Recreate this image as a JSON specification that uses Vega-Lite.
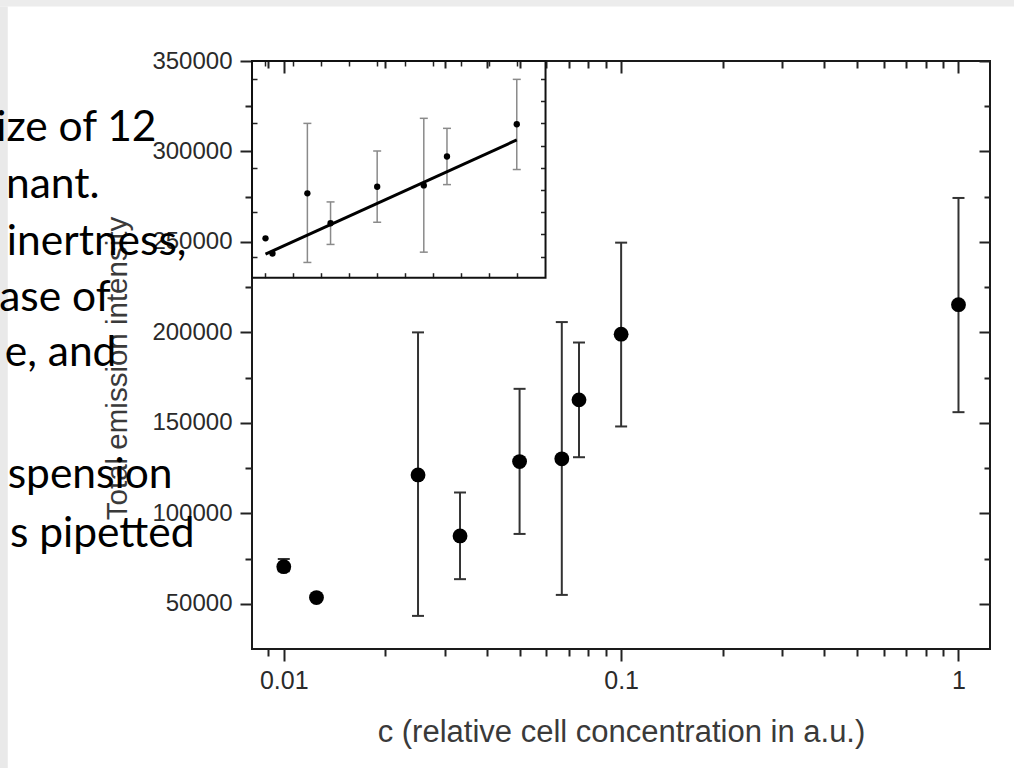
{
  "$schema": "https://vega.github.io/schema/vega-lite/v6.json",
  "width": 738,
  "height": 588,
  "autosize": {"type": "none"},
  "padding": {"left": 252, "top": 61, "right": 24, "bottom": 119},
  "background": "white",
  "config": {
    "view": {"stroke": "#1a1a1a", "strokeWidth": 2},
    "axis": {
      "labelFont": "Liberation Sans",
      "titleFont": "Liberation Sans",
      "grid": false,
      "domain": false,
      "tickColor": "#222",
      "tickWidth": 2,
      "labelColor": "#2a2a2a",
      "titleColor": "#3a3a3a",
      "titleFontWeight": "normal",
      "labelFlush": false,
      "labelOverlap": false
    }
  },
  "datasets": {
    "main": [
      {"c": 0.01, "v": 70500, "lo": 68000, "hi": 74800},
      {"c": 0.0125, "v": 53400, "lo": null, "hi": null},
      {"c": 0.025, "v": 121200, "lo": 43300, "hi": 200000},
      {"c": 0.0333, "v": 87500, "lo": 63600, "hi": 111500},
      {"c": 0.05, "v": 128600, "lo": 88600, "hi": 168800},
      {"c": 0.0667, "v": 130100, "lo": 54900, "hi": 205700},
      {"c": 0.075, "v": 162700, "lo": 131000, "hi": 194400},
      {"c": 0.1, "v": 199000, "lo": 148000, "hi": 249600},
      {"c": 1, "v": 215300, "lo": 155900, "hi": 274300}
    ],
    "fit": [
      {"c": 0.01, "v": 52800},
      {"c": 0.1, "v": 181300}
    ],
    "slide": [
      {"t": "ize of 12", "tc": 0.004195, "tv": 305975},
      {"t": "nant.", "tc": 0.002843, "tv": 274450},
      {"t": "inertness,", "tc": 0.005148, "tv": 242920},
      {"t": "ase of", "tc": 0.003066, "tv": 211950},
      {"t": "e, and", "tc": 0.003191, "tv": 181530},
      {"t": "spension", "tc": 0.004679, "tv": 114050},
      {"t": "s pipetted", "tc": 0.005436, "tv": 81420}
    ]
  },
  "layer": [
    {
      "layer": [
        {
          "data": {"values": [{}]},
          "mark": {"type": "rect", "color": "#ececec"},
          "encoding": {
            "x": {"datum": 0.001, "type": "quantitative", "scale": {"type": "log", "domain": [0.00805, 1.24], "nice": false, "zero": false}},
            "x2": {"datum": 2},
            "y": {"datum": 380100, "type": "quantitative", "scale": {"type": "linear", "domain": [25000, 350000], "nice": false, "zero": false}},
            "y2": {"datum": 400000}
          }
        },
        {
          "data": {"values": [{}]},
          "mark": {"type": "rect", "color": "#e9e9e9"},
          "encoding": {
            "x": {"datum": 0.001, "type": "quantitative", "scale": {"type": "log", "domain": [0.00805, 1.24], "nice": false, "zero": false}},
            "x2": {"datum": 0.00152},
            "y": {"datum": -60000, "type": "quantitative", "scale": {"type": "linear", "domain": [25000, 350000], "nice": false, "zero": false}},
            "y2": {"datum": 380100}
          }
        },
        {
          "data": {"name": "slide"},
          "mark": {"type": "text", "align": "right", "baseline": "alphabetic", "font": "Lato", "fontSize": 42.5, "color": "#000"},
          "encoding": {
            "x": {"field": "tc", "type": "quantitative", "scale": {"type": "log", "domain": [0.00805, 1.24], "nice": false, "zero": false}},
            "y": {"field": "tv", "type": "quantitative", "scale": {"type": "linear", "domain": [25000, 350000], "nice": false, "zero": false}},
            "text": {"field": "t"}
          }
        },
        {
          "data": {"name": "main"},
          "mark": {"type": "rule", "color": "#333", "strokeWidth": 2},
          "encoding": {
            "x": {"field": "c", "type": "quantitative", "scale": {"type": "log", "domain": [0.00805, 1.24], "nice": false, "zero": false}},
            "y": {"field": "lo", "type": "quantitative", "scale": {"type": "linear", "domain": [25000, 350000], "nice": false, "zero": false}},
            "y2": {"field": "hi"}
          }
        },
        {
          "data": {"name": "main"},
          "mark": {"type": "tick", "orient": "horizontal", "size": 12, "thickness": 2, "color": "#333", "opacity": 1},
          "encoding": {
            "x": {"field": "c", "type": "quantitative", "scale": {"type": "log", "domain": [0.00805, 1.24], "nice": false, "zero": false}},
            "y": {"field": "hi", "type": "quantitative", "scale": {"type": "linear", "domain": [25000, 350000], "nice": false, "zero": false}}
          }
        },
        {
          "data": {"name": "main"},
          "mark": {"type": "tick", "orient": "horizontal", "size": 12, "thickness": 2, "color": "#333", "opacity": 1},
          "encoding": {
            "x": {"field": "c", "type": "quantitative", "scale": {"type": "log", "domain": [0.00805, 1.24], "nice": false, "zero": false}},
            "y": {"field": "lo", "type": "quantitative", "scale": {"type": "linear", "domain": [25000, 350000], "nice": false, "zero": false}}
          }
        },
        {
          "data": {"name": "main"},
          "mark": {"type": "circle", "size": 220, "color": "#000", "opacity": 1},
          "encoding": {
            "x": {
              "field": "c", "type": "quantitative",
              "scale": {"type": "log", "domain": [0.00805, 1.24], "nice": false, "zero": false},
              "axis": {
                "orient": "bottom",
                "values": [0.009, 0.01, 0.02, 0.03, 0.04, 0.05, 0.06, 0.07, 0.08, 0.09, 0.1, 0.2, 0.3, 0.4, 0.5, 0.6, 0.7, 0.8, 0.9, 1],
                "labelExpr": "(datum.value == 0.01 || datum.value == 0.1 || datum.value == 1) ? format(datum.value, '~g') : ''",
                "tickSize": {"condition": {"test": "datum.value == 0.01 || datum.value == 0.1 || datum.value == 1", "value": 12}, "value": 7},
                "labelFontSize": 25,
                "labelPadding": 7,
                "title": "c (relative cell concentration in a.u.)",
                "titleFontSize": 31,
                "titleY": 92,
                "titleBaseline": "alphabetic"
              }
            },
            "y": {
              "field": "v", "type": "quantitative",
              "scale": {"type": "linear", "domain": [25000, 350000], "nice": false, "zero": false},
              "axis": {
                "orient": "left",
                "values": [50000, 75000, 100000, 125000, 150000, 175000, 200000, 225000, 250000, 275000, 300000, 325000, 350000],
                "labelExpr": "datum.value % 50000 == 0 ? format(datum.value, 'd') : ''",
                "tickSize": {"condition": {"test": "datum.value % 50000 == 0", "value": 12}, "value": 7},
                "labelFontSize": 24,
                "labelPadding": 8,
                "title": "Total emission intensity",
                "titleFontSize": 29.5,
                "titleX": -126,
                "titleY": 307,
                "titleAngle": -90,
                "titleAlign": "center",
                "titleBaseline": "alphabetic"
              }
            }
          }
        }
      ]
    },
    {
      "data": {"name": "main"},
      "mark": {"type": "circle", "opacity": 0},
      "encoding": {
        "x": {
          "field": "c", "type": "quantitative",
          "scale": {"type": "log", "domain": [0.00805, 1.24], "nice": false, "zero": false},
          "axis": {
            "orient": "top",
            "values": [0.009, 0.01, 0.02, 0.03, 0.04, 0.05, 0.06, 0.07, 0.08, 0.09, 0.1, 0.2, 0.3, 0.4, 0.5, 0.6, 0.7, 0.8, 0.9, 1],
            "labels": false,
            "title": null,
            "tickSize": {"condition": {"test": "datum.value == 0.01 || datum.value == 0.1 || datum.value == 1", "value": -12}, "value": -7}
          }
        },
        "y": {
          "field": "v", "type": "quantitative",
          "scale": {"type": "linear", "domain": [25000, 350000], "nice": false, "zero": false},
          "axis": {
            "orient": "right",
            "values": [50000, 75000, 100000, 125000, 150000, 175000, 200000, 225000, 250000, 275000, 300000, 325000, 350000],
            "labels": false,
            "title": null,
            "tickSize": {"condition": {"test": "datum.value % 50000 == 0", "value": -11}, "value": -6}
          }
        }
      }
    },
    {
      "layer": [
        {
          "data": {"values": [{}]},
          "mark": {"type": "rect", "fill": null, "fillOpacity": 0, "stroke": "#111", "strokeWidth": 2},
          "encoding": {
            "x": {
              "datum": 0.00517, "type": "quantitative",
              "scale": {"type": "linear", "domain": [0.005165, 0.2695], "nice": false, "zero": false},
              "axis": {
                "orient": "bottom",
                "offset": -371.3,
                "values": [0.01, 0.02, 0.03, 0.04, 0.05, 0.06, 0.07, 0.08, 0.09, 0.1],
                "labels": false,
                "title": null,
                "tickSize": -5,
                "tickWidth": 1.5
              }
            },
            "x2": {"datum": 0.1103},
            "y": {
              "datum": 26100, "type": "quantitative",
              "scale": {"type": "linear", "domain": [-392270, 270290], "nice": false, "zero": false},
              "axis": {
                "orient": "left",
                "values": [50000, 100000, 150000, 200000, 250000],
                "labels": false,
                "title": null,
                "tickSize": -5,
                "tickWidth": 1.5
              }
            },
            "y2": {"datum": 270290}
          }
        },
        {
          "data": {"name": "main"},
          "transform": [{"filter": "datum.c > 0.011 && datum.c <= 0.1"}],
          "mark": {"type": "rule", "color": "#8a8a8a", "strokeWidth": 1.5},
          "encoding": {
            "x": {"field": "c", "type": "quantitative", "scale": {"type": "linear", "domain": [0.005165, 0.2695], "nice": false, "zero": false}},
            "y": {"field": "lo", "type": "quantitative", "scale": {"type": "linear", "domain": [-392270, 270290], "nice": false, "zero": false}},
            "y2": {"field": "hi"}
          }
        },
        {
          "data": {"name": "main"},
          "transform": [{"filter": "datum.c > 0.011 && datum.c <= 0.1"}],
          "mark": {"type": "tick", "orient": "horizontal", "size": 8, "thickness": 1.5, "color": "#8a8a8a", "opacity": 1},
          "encoding": {
            "x": {"field": "c", "type": "quantitative", "scale": {"type": "linear", "domain": [0.005165, 0.2695], "nice": false, "zero": false}},
            "y": {"field": "hi", "type": "quantitative", "scale": {"type": "linear", "domain": [-392270, 270290], "nice": false, "zero": false}}
          }
        },
        {
          "data": {"name": "main"},
          "transform": [{"filter": "datum.c > 0.011 && datum.c <= 0.1"}],
          "mark": {"type": "tick", "orient": "horizontal", "size": 8, "thickness": 1.5, "color": "#8a8a8a", "opacity": 1},
          "encoding": {
            "x": {"field": "c", "type": "quantitative", "scale": {"type": "linear", "domain": [0.005165, 0.2695], "nice": false, "zero": false}},
            "y": {"field": "lo", "type": "quantitative", "scale": {"type": "linear", "domain": [-392270, 270290], "nice": false, "zero": false}}
          }
        },
        {
          "data": {"name": "fit"},
          "mark": {"type": "line", "color": "#000", "strokeWidth": 3},
          "encoding": {
            "x": {"field": "c", "type": "quantitative", "scale": {"type": "linear", "domain": [0.005165, 0.2695], "nice": false, "zero": false}},
            "y": {"field": "v", "type": "quantitative", "scale": {"type": "linear", "domain": [-392270, 270290], "nice": false, "zero": false}}
          }
        },
        {
          "data": {"name": "main"},
          "transform": [{"filter": "datum.c <= 0.1"}],
          "mark": {"type": "circle", "size": 40, "color": "#000", "opacity": 1},
          "encoding": {
            "x": {"field": "c", "type": "quantitative", "scale": {"type": "linear", "domain": [0.005165, 0.2695], "nice": false, "zero": false}},
            "y": {"field": "v", "type": "quantitative", "scale": {"type": "linear", "domain": [-392270, 270290], "nice": false, "zero": false}}
          }
        }
      ]
    },
    {
      "data": {"values": [{}]},
      "mark": {"type": "rect", "opacity": 0},
      "encoding": {
        "x": {
          "datum": 0.00517, "type": "quantitative",
          "scale": {"type": "linear", "domain": [0.005165, 0.2695], "nice": false, "zero": false},
          "axis": {
            "orient": "top",
            "values": [0.01, 0.02, 0.03, 0.04, 0.05, 0.06, 0.07, 0.08, 0.09, 0.1],
            "labels": false,
            "title": null,
            "tickSize": -5,
            "tickWidth": 1.5
          }
        },
        "x2": {"datum": 0.1103},
        "y": {
          "datum": 26100, "type": "quantitative",
          "scale": {"type": "linear", "domain": [-392270, 270290], "nice": false, "zero": false},
          "axis": {
            "orient": "right",
            "offset": -444.5,
            "values": [50000, 75000, 100000, 125000, 150000, 175000, 200000, 225000, 250000],
            "labels": false,
            "title": null,
            "tickSize": -5,
            "tickWidth": 1.5
          }
        },
        "y2": {"datum": 270290}
      }
    }
  ],
  "resolve": {
    "scale": {"x": "independent", "y": "independent"},
    "axis": {"x": "independent", "y": "independent"}
  }
}
